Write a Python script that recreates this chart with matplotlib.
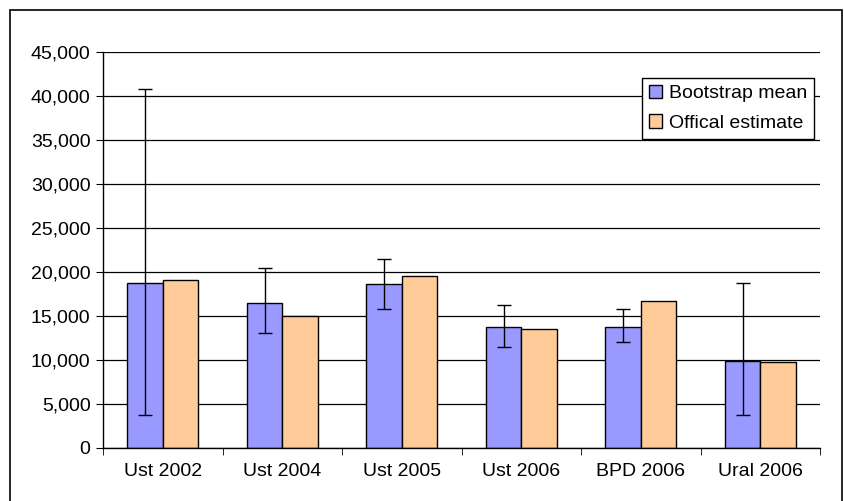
import matplotlib
matplotlib.use('Agg')
import matplotlib.pyplot as plt
import numpy as np
from matplotlib.patches import Rectangle

categories = ['Ust 2002', 'Ust 2004', 'Ust 2005', 'Ust 2006', 'BPD 2006', 'Ural 2006']
bootstrap_mean = [18800, 16450, 18650, 13700, 13700, 9900]
official_estimate = [19100, 15000, 19600, 13550, 16700, 9750]
ci_upper = [40800, 20400, 21500, 16300, 15800, 18800]
ci_lower = [3800, 13100, 15800, 11500, 12000, 3800]

plt.rcParams['font.family'] = ['Liberation Sans', 'DejaVu Sans']
fs = 14

fig = plt.figure(figsize=(8.44, 5.01), dpi=100)
ax = fig.add_axes([103/844, 53/501, (820-103)/844, (448-52)/501])

x = np.arange(len(categories))
w = 0.295
mean = np.array(bootstrap_mean)
yerr = [mean - np.array(ci_lower), np.array(ci_upper) - mean]

ax.set_axisbelow(True)
ax.yaxis.grid(True, color='black', linewidth=0.9)
ax.bar(x - w/2, bootstrap_mean, w, color='#9999FF', edgecolor='black',
       linewidth=1, label='Bootstrap mean', zorder=2)
ax.bar(x + w/2, official_estimate, w, color='#FFCC99', edgecolor='black',
       linewidth=1, label='Offical estimate', zorder=2)
ax.errorbar(x - w/2, bootstrap_mean, yerr=yerr, fmt='none', ecolor='black',
            elinewidth=1, capsize=5, capthick=1, zorder=3)

ax.set_xlim(-0.5, len(categories) - 0.5)
ax.set_ylim(0, 45000)
ax.set_yticks(np.arange(0, 45001, 5000))
ax.set_yticklabels(['{:,}'.format(v) for v in range(0, 45001, 5000)], fontsize=fs)
ax.set_xticks(x)
ax.set_xticklabels(categories, fontsize=fs)
ax.set_xticks(np.arange(-0.5, len(categories)), minor=True)
ax.tick_params(axis='x', which='major', length=0, pad=11)
ax.tick_params(axis='x', which='minor', length=5, direction='out', color='black')
ax.tick_params(axis='y', length=5, direction='out', color='black', pad=4)

for s in ['top', 'right']:
    ax.spines[s].set_visible(False)
ax.spines['left'].set_linewidth(1)
ax.spines['bottom'].set_linewidth(1)

leg = ax.legend(loc='upper right', bbox_to_anchor=(814/844, (501-78)/501),
                bbox_transform=fig.transFigure, fontsize=14, frameon=True,
                fancybox=False, edgecolor='black', framealpha=1,
                handlelength=0.7, handleheight=0.7, handletextpad=0.35,
                borderpad=0.35, labelspacing=0.6, borderaxespad=0)
leg.get_frame().set_linewidth(1)

fig.patches.append(Rectangle((10/844, -0.01), 832/844, (501-10)/501 + 0.01,
                             transform=fig.transFigure, fill=False,
                             edgecolor='black', linewidth=1.2))

fig.savefig('out.png', dpi=100)
